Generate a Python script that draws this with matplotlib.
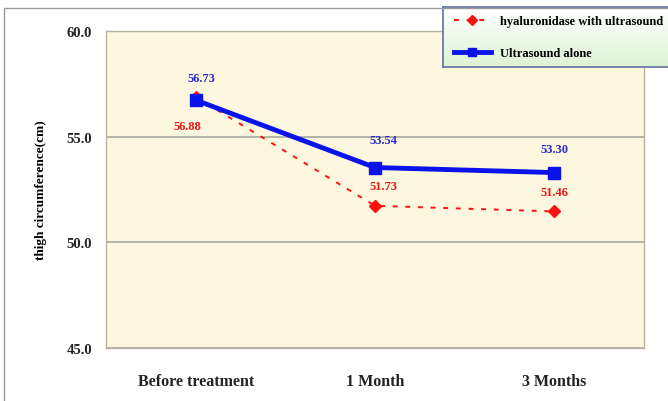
import numpy as np
import matplotlib
matplotlib.use('Agg')
import matplotlib.pyplot as plt
from matplotlib.patches import Rectangle

# data
categories = ['Before treatment', '1 Month', '3 Months']
hyal_vals = [56.88, 51.73, 51.46]
us_vals = [56.73, 53.54, 53.30]
y_ticks = [45.0, 50.0, 55.0, 60.0]

plt.rcParams['font.family'] = ['Liberation Serif', 'DejaVu Serif']
plt.rcParams['font.weight'] = 'bold'

fig = plt.figure(figsize=(6.68, 4.02), dpi=100)

# outer frame of the picture
fig.patches.append(Rectangle((4 / 668, -0.05), 1.2, 0.05 + (402 - 9) / 402,
                             transform=fig.transFigure, fill=False,
                             edgecolor='#9a9a9a', linewidth=1.0))

ax = fig.add_axes([106 / 668, 53 / 402, 538 / 668, 317 / 402])
ax.set_facecolor('#fdf7e0')
x = np.arange(len(categories))

ax.plot(x, hyal_vals, color='#ff1010', linestyle=(0, (2.5, 4)), linewidth=1.4,
        marker='D', markersize=6.5, label='hyaluronidase with ultrasound', zorder=3)
ax.plot(x, us_vals, color='#0a14e8', linewidth=3.5, marker='s', markersize=8,
        label='Ultrasound alone', zorder=4)

# value labels
blue_off = [(4, 16), (6, 20), (0, 17)]
red_off = [(-6, -21), (6, 14), (0, 14)]
for i in range(len(categories)):
    ax.annotate('%.2f' % us_vals[i], (x[i], us_vals[i]), xytext=blue_off[i],
                textcoords='offset points', ha='center', va='center',
                color='#2a2ad0', fontsize=9, fontweight='bold')
    ax.annotate('%.2f' % hyal_vals[i], (x[i], hyal_vals[i]), xytext=red_off[i],
                textcoords='offset points', ha='center', va='center',
                color='#ee1515', fontsize=9, fontweight='bold')

ax.set_xlim(-0.5, 2.5)
ax.set_ylim(45, 60)
ax.set_yticks(y_ticks)
ax.set_yticklabels(['%.1f' % v for v in y_ticks])
ax.set_xticks(x)
ax.set_xticklabels(categories)
ax.tick_params(axis='both', length=0, colors='#222222')
ax.tick_params(axis='y', pad=10, labelsize=10.5)
ax.tick_params(axis='x', pad=18, labelsize=11.5)
ax.grid(axis='y', color='#a8a8a0', linewidth=1.2)
ax.set_axisbelow(True)
for s in ax.spines.values():
    s.set_color('#b8b4a0')
    s.set_linewidth(1.0)
ax.set_ylabel('thigh circumference(cm)', fontsize=9.5, fontweight='bold', labelpad=14)

# legend box with a soft white-to-green fill
lax = fig.add_axes([443 / 668, (402 - 68) / 402, 0.36, 60 / 402])
grad = np.linspace(0, 1, 100).reshape(-1, 1)
lax.imshow(grad, aspect='auto', cmap=matplotlib.colors.LinearSegmentedColormap.from_list(
    'g', ['#ffffff', '#ddf3d4']), extent=[0, 1, 0, 1], origin='upper')
lax.set_xticks([])
lax.set_yticks([])
for s in lax.spines.values():
    s.set_color('#6070a0')
    s.set_linewidth(1.2)
h, l = ax.get_legend_handles_labels()
lax.legend(h, l, loc='center left', frameon=False, markerscale=0.8,
           handlelength=2.9, labelspacing=1.6, borderaxespad=0.5,
           prop={'weight': 'bold', 'size': 9})

fig.savefig('out.png', dpi=100)
